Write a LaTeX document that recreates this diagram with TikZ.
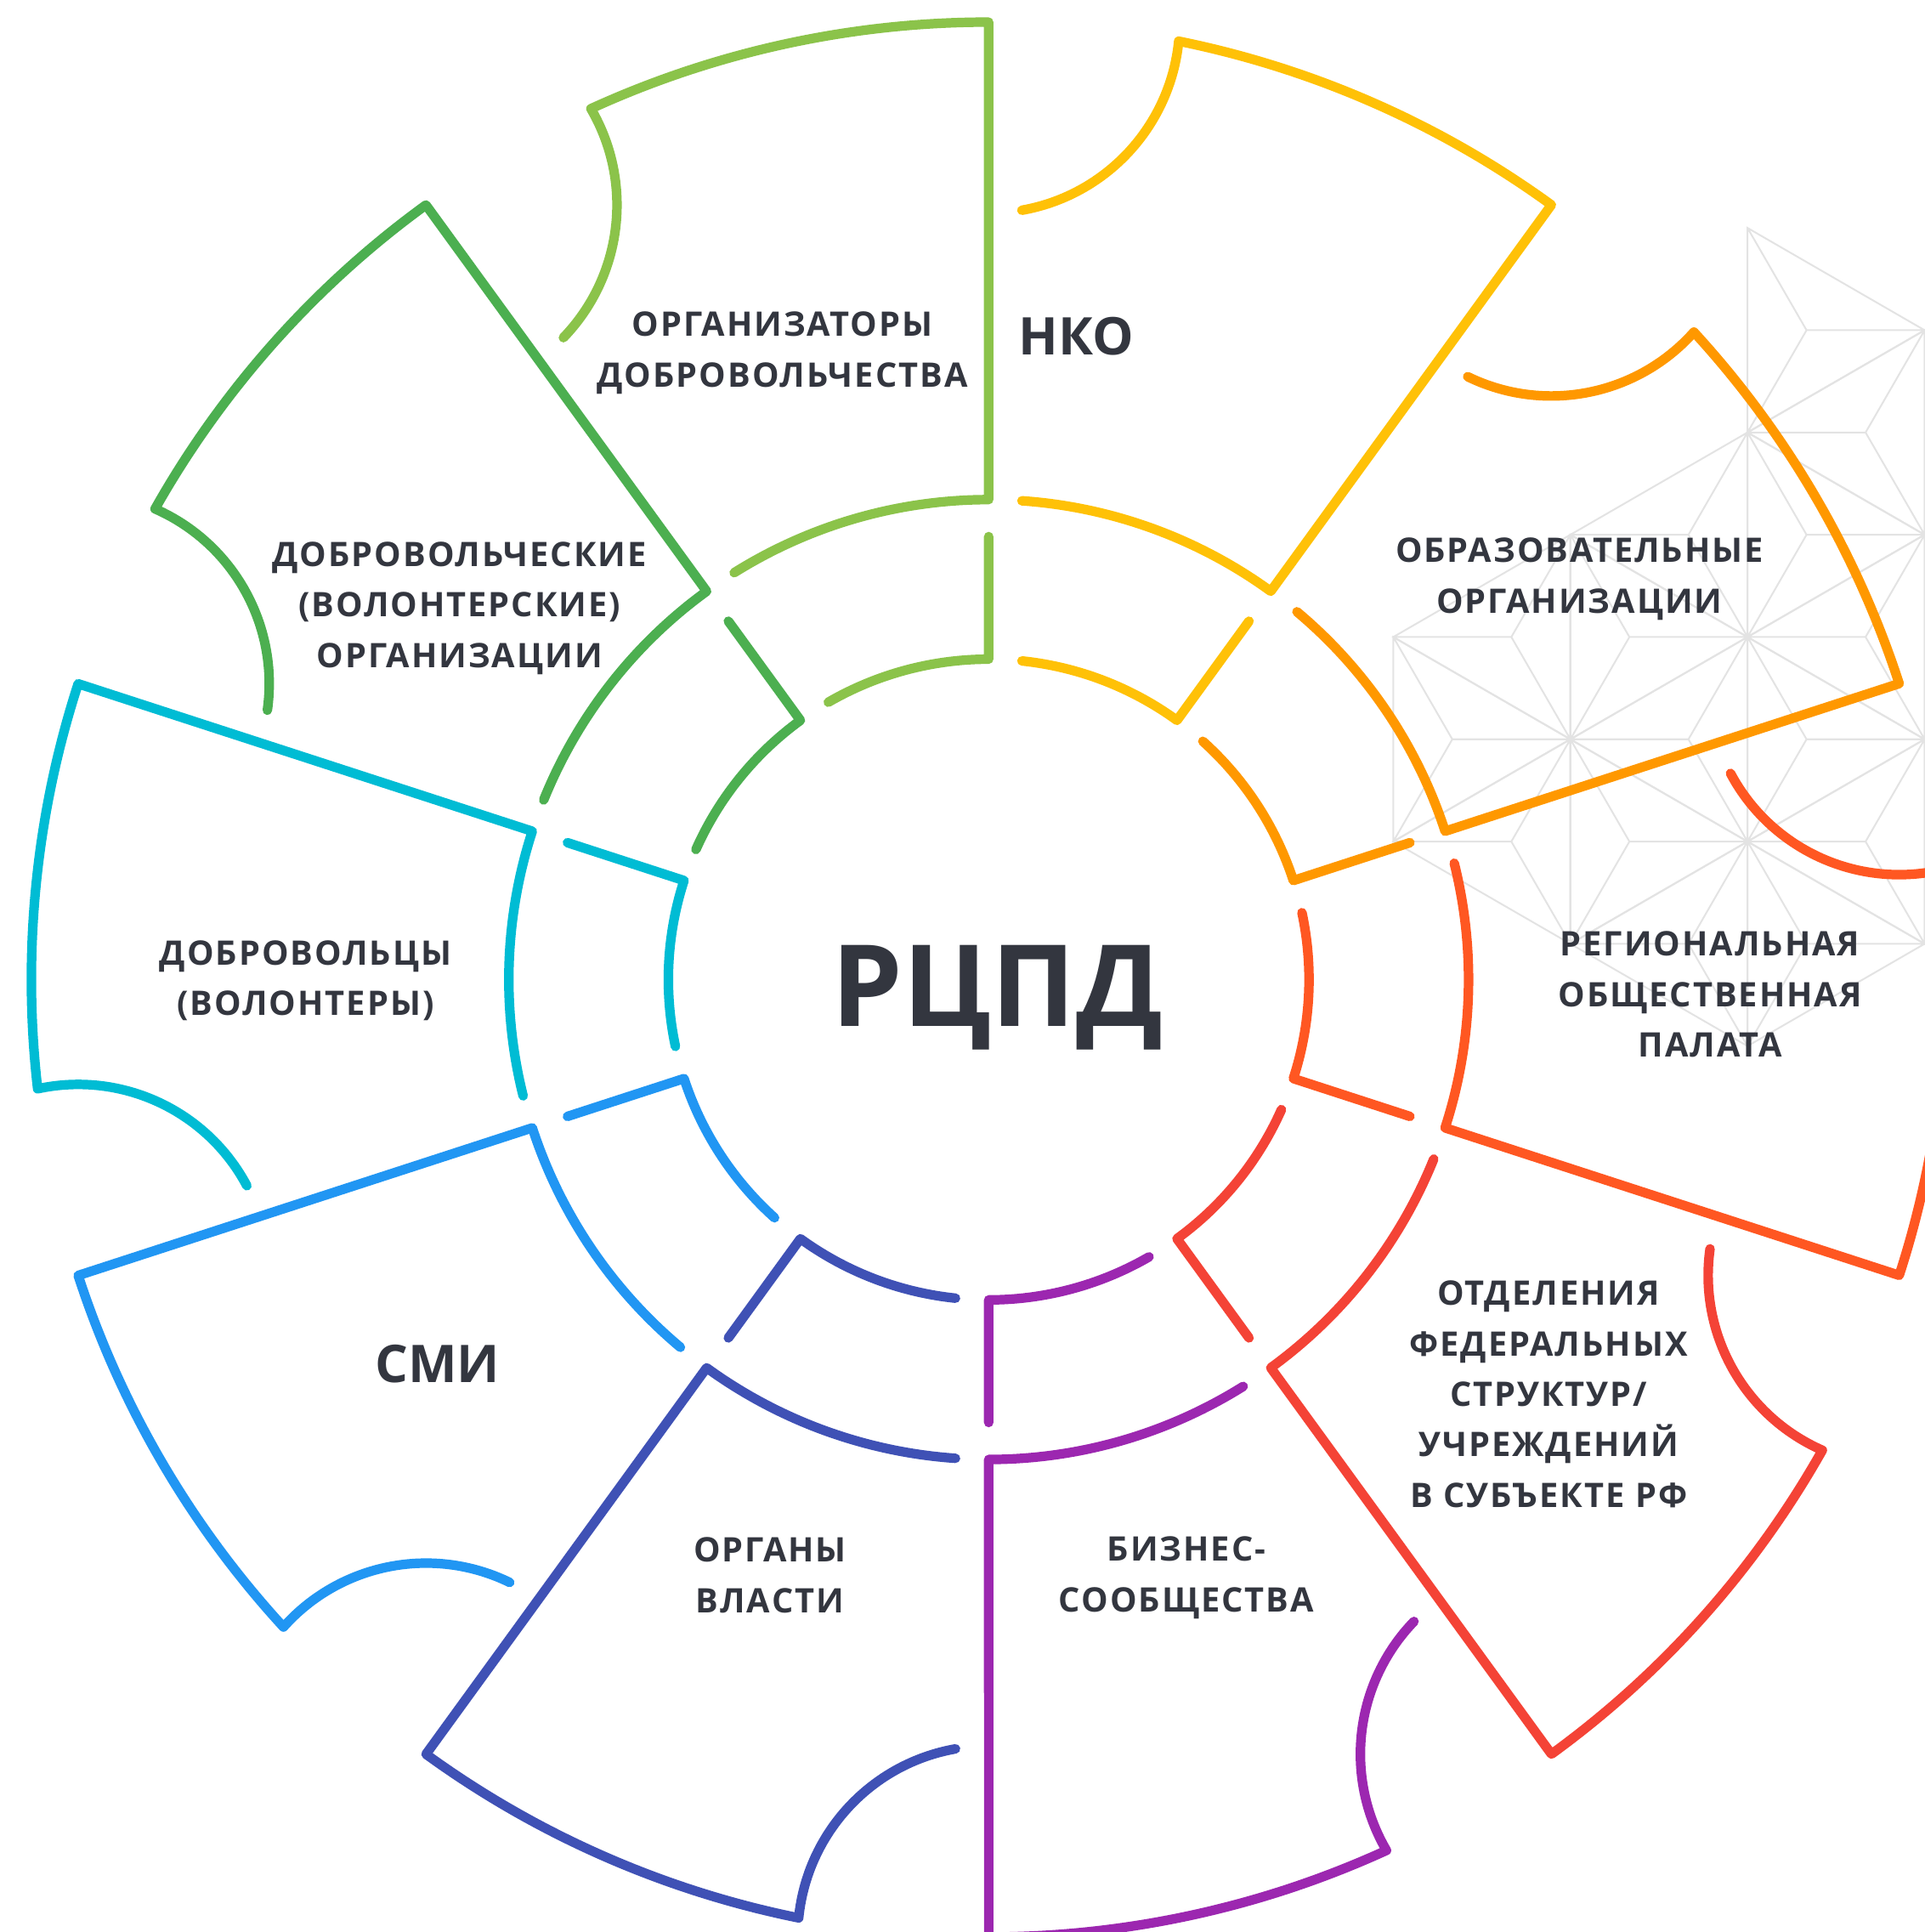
\documentclass[tikz,border=0pt]{standalone}
\usepackage{fontspec}
\newfontfamily\lblfont{Open Sans}[LetterSpace=5]
\newfontfamily\headfont{Open Sans}
\definecolor{ink}{HTML}{33363F}
\definecolor{mesh}{HTML}{E3E3E3}
\definecolor{cLime}{HTML}{8BC34A}
\definecolor{cLeaf}{HTML}{4CAF50}
\definecolor{cAqua}{HTML}{00BCD4}
\definecolor{cSky}{HTML}{2196F3}
\definecolor{cIndigo}{HTML}{3F51B5}
\definecolor{cPlum}{HTML}{9C27B0}
\definecolor{cRed}{HTML}{F44336}
\definecolor{cCoral}{HTML}{FF5722}
\definecolor{cAmber}{HTML}{FF9800}
\definecolor{cGold}{HTML}{FFC107}
\tikzset{
  lbl/.style={font={\lblfont\bfseries\fontsize{7.8}{11.67}\selectfont}, text=ink, align=center},
  head/.style={font={\headfont\bfseries\fontsize{12}{14}\selectfont}, text=ink},
  piece/.style={line width=2.2pt, line cap=round, line join=round},
  meshline/.style={draw=mesh, line width=0.4pt}
}
\begin{document}
\begin{tikzpicture}
  \useasboundingbox (-8.025,-7.73) rectangle (7.595,7.95);
  % star mesh behind the right side
  \begin{scope}[shift={(6.159,2.78)}, x={(1.4376,-0.83)}, y={(0,1.66)}]
    \foreach \i/\j in {0/1,0/0,0/-1,0/-2,-1/-1,-1/-2,-2/-2,1/1,1/0,1/-1}
      \draw[meshline] (\i,\j) -- (\i,\j+1) -- (\i+1,\j+1) -- cycle
        (\i+1/3,\j+2/3) -- (\i,\j) (\i+1/3,\j+2/3) -- (\i,\j+1) (\i+1/3,\j+2/3) -- (\i+1,\j+1);
    \foreach \i/\j in {0/1,0/0,0/-1,-1/0,-1/-1,-1/-2,-2/-1,-2/-2,1/1,1/0}
      \draw[meshline] (\i,\j) -- (\i+1,\j) -- (\i+1,\j+1) -- cycle
        (\i+2/3,\j+1/3) -- (\i,\j) (\i+2/3,\j+1/3) -- (\i+1,\j) (\i+2/3,\j+1/3) -- (\i+1,\j+1);
  \end{scope}
  % ten pieces, each starts at its radial line \a
  \foreach \a/\col in {90/cLime,126/cLeaf,162/cAqua,198/cSky,234/cIndigo,270/cPlum,306/cRed,342/cCoral,18/cAmber,54/cGold} {
    \pgfmathsetmacro\b{\a+36}
    \draw[piece,\col] ([shift={(\b-170:1.55)}]\b:7.77) arc[start angle=\b-170, end angle=\b-95.72, radius=1.55]
      arc[start angle=\b-11.45, end angle=\a, radius=7.77] -- (\a:3.895)
      arc[start angle=\a, end angle=\b-3.97, radius=3.895];
    \draw[piece,\col] (\a:3.595) -- (\a:2.6) arc[start angle=\a, end angle=\b-5.95, radius=2.6];
  }
  \node[lbl] (orgs) at (-1.675,5.085) {ОРГАНИЗАТОРЫ\\ДОБРОВОЛЬЧЕСТВА};
  \node[head] (nko) at (0.71,5.22) {НКО};
  \node[lbl] (volorg) at (-4.295,3.015) {ДОБРОВОЛЬЧЕСКИЕ\\(ВОЛОНТЕРСКИЕ)\\ОРГАНИЗАЦИИ};
  \node[lbl] (vols) at (-5.545,-0.01) {ДОБРОВОЛЬЦЫ\\(ВОЛОНТЕРЫ)};
  \node[head] (smi) at (-4.475,-3.12) {СМИ};
  \node[lbl] (gov) at (-1.775,-4.835) {ОРГАНЫ\\ВЛАСТИ};
  \node[lbl] (biz) at (1.605,-4.855) {БИЗНЕС-\\СООБЩЕСТВА};
  \node[lbl] (fed) at (4.545,-3.365) {ОТДЕЛЕНИЯ\\ФЕДЕРАЛЬНЫХ\\СТРУКТУР/\\УЧРЕЖДЕНИЙ\\В СУБЪЕКТЕ РФ};
  \node[lbl] (chamber) at (5.855,-0.12) {РЕГИОНАЛЬНАЯ\\ОБЩЕСТВЕННАЯ\\ПАЛАТА};
  \node[lbl] (edu) at (4.795,3.25) {ОБРАЗОВАТЕЛЬНЫЕ\\ОРГАНИЗАЦИИ};
  \node[head, font={\headfont\bfseries\fontsize{26.2}{30}\selectfont}, anchor=base] (rcpd) at (0.07,-0.38) {РЦПД};
\end{tikzpicture}
\end{document}
